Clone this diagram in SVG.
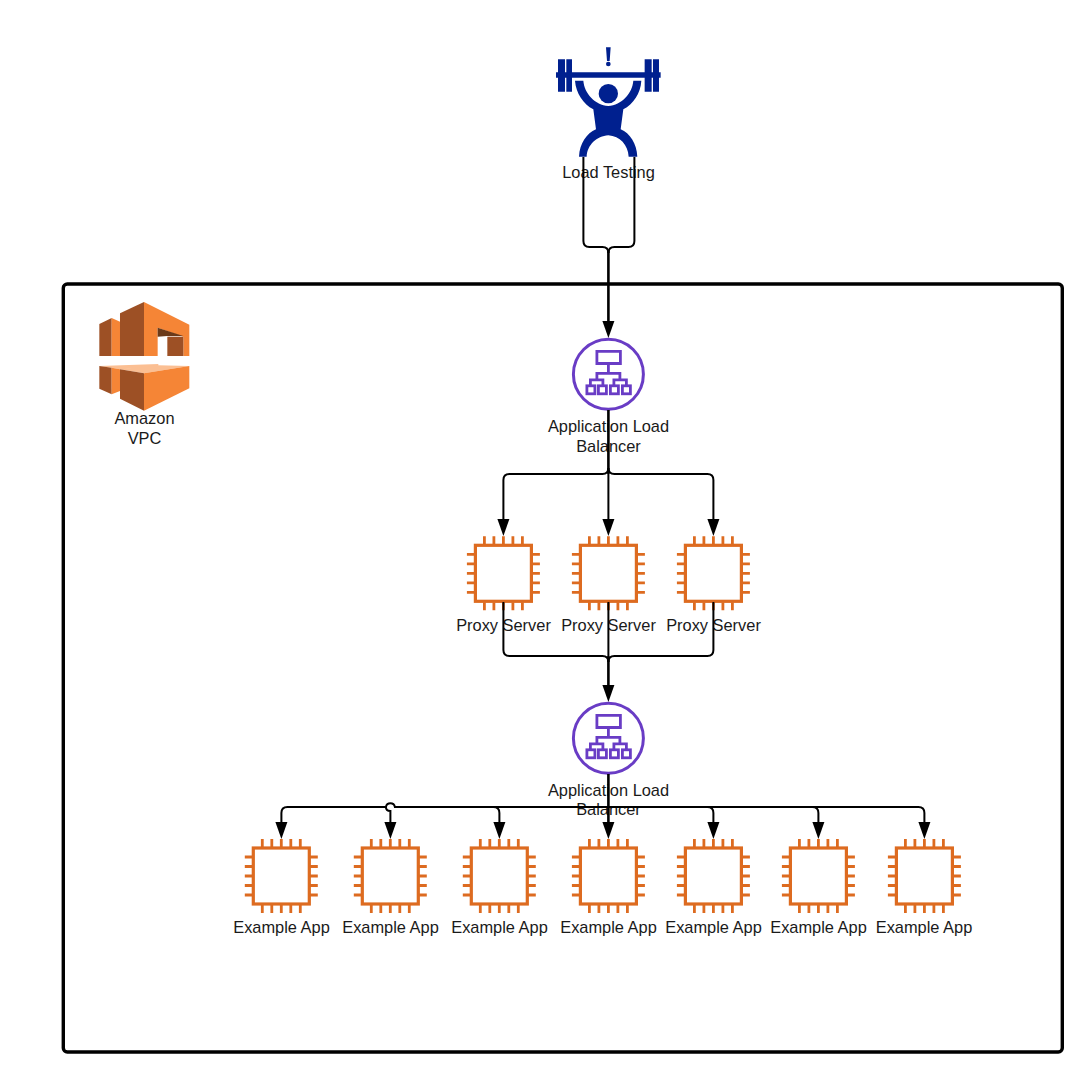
<svg xmlns="http://www.w3.org/2000/svg" xmlns:xlink="http://www.w3.org/1999/xlink" width="1092" height="1088" viewBox="0 0 1092 1088">
<style>
text{font-family:"Liberation Sans",Arial,sans-serif;font-size:16.4px;fill:#1a1a1a;text-anchor:middle}
.wire{fill:none;stroke:#000;stroke-width:2}
.trunk{fill:none;stroke:#000;stroke-width:2.600}
.chipbox{fill:#fff;stroke:#dd6b20;stroke-width:3.200}
.pin{fill:none;stroke:#dd6b20;stroke-width:2.800}
.alb{fill:none;stroke:#693cc5;stroke-width:3}
.albi{fill:none;stroke:#693cc5;stroke-width:2.800}
.lift{fill:#00208f}
.od{fill:#9d5025}.ol{fill:#f58536}.ot{fill:#fbbf93}.ok{fill:#6b3a19}
</style>
<defs>
<polygon id="tip" points="-6,-17 6,-17 0,0" fill="#000"/>
<g id="chip">
<path class="pin" d="M-19-37v8M-9.500-37v8M0-37v8M9.500-37v8M19-37v8M-19 29v8M-9.500 29v8M0 29v8M9.500 29v8M19 29v8M-36.500-19h8M-36.500-9.500h8M-36.500 0h8M-36.500 9.500h8M-36.500 19h8M28.500-19h8M28.500-9.500h8M28.500 0h8M28.500 9.500h8M28.500 19h8"/>
<rect class="chipbox" x="-28" y="-28" width="56" height="56"/>
</g>
<g id="albicon">
<circle class="alb" cx="0" cy="0" r="35"/>
<path class="albi" d="M-11.500-23H12V-10.800H-11.500ZM0-10.800V-1M-11.500 7V-1H11.500V7M-18 11V5.500H-5.500V11M5.500 11V5.500H18V11"/>
<rect class="albi" x="-21.500" y="11.500" width="8" height="8"/>
<rect class="albi" x="-10" y="11.500" width="8" height="8"/>
<rect class="albi" x="2" y="11.500" width="8" height="8"/>
<rect class="albi" x="14" y="11.500" width="8" height="8"/>
</g>
</defs>
<rect width="1092" height="1088" fill="#fff"/>
<g id="vpc-boundary"><rect x="63.300" y="284" width="999" height="768" rx="4" fill="none" stroke="#000" stroke-width="3.400"/></g>
<g id="load-testing">
<g transform="translate(540,30) scale(.3333)">
<path class="lift" d="M198 52H212L209 93H201ZM48 127H54V88H75V127H79V88H96V127H314V88H335V127H339V88H357V127H362V143H357V185H339V143H335V185H314V143H96V185H79V143H75V185H54V143H48Z"/>
<circle class="lift" cx="205" cy="102" r="7"/>
<circle class="lift" cx="205" cy="191" r="29"/>
<path class="lift" d="M105 152H130C133 190 165 225 205 228C245 225 277 190 280 152H304C302 190 280 222 250 238L242 298C270 310 290 340 292 380H266C264 345 240 318 205 316C170 318 142 345 140 380H117C119 340 140 310 168 298L160 238C130 222 108 190 105 152Z"/>
</g>
<text x="608.500" y="178">Load Testing</text>
</g>
<g id="amazon-vpc">
<g transform="translate(80,290) scale(.3333)">
<path class="od" d="M58 102L95 84V198H58Z"/><path class="ol" d="M95 84L120 95V198H95Z"/>
<path class="od" d="M120 70L192 36V198H120Z"/>
<path class="ol" d="M192 36L328 104V198H310V140L233 113V198H192Z"/>
<path class="ok" d="M233 113L310 138H262L233 140Z"/>
<path class="od" d="M262 140H310V198H262Z"/>
<path class="ot" d="M58 228L235 222V232L120 238L95 233Z"/>
<path class="od" d="M58 228L95 233V313L58 296Z"/><path class="ol" d="M95 233L120 238V303L95 313Z"/>
<path class="ot" d="M120 238L235 226L328 228L192 250Z"/>
<path class="od" d="M120 238L192 250V362L120 326Z"/>
<path class="ol" d="M192 250L328 228V295L192 362Z"/>
</g>
<text x="144.500" y="424">Amazon</text><text x="144.500" y="444">VPC</text>
</g>
<g id="alb-1"><use xlink:href="#albicon" href="#albicon" x="608.400" y="374.300"/><text x="608.500" y="432">Application Load</text><text x="608.500" y="452">Balancer</text></g>
<g id="proxy-1"><use xlink:href="#chip" href="#chip" x="503.400" y="573.300"/><text x="503.500" y="631">Proxy Server</text></g>
<g id="proxy-2"><use xlink:href="#chip" href="#chip" x="608.400" y="573.300"/><text x="608.500" y="631">Proxy Server</text></g>
<g id="proxy-3"><use xlink:href="#chip" href="#chip" x="713.400" y="573.300"/><text x="713.500" y="631">Proxy Server</text></g>
<g id="alb-2"><use xlink:href="#albicon" href="#albicon" x="608.400" y="738.300"/><text x="608.500" y="796">Application Load</text><text x="608.500" y="815">Balancer</text></g>
<g id="app-1"><use xlink:href="#chip" href="#chip" x="281.300" y="876"/><text x="281.500" y="933">Example App</text></g>
<g id="app-2"><use xlink:href="#chip" href="#chip" x="390.300" y="876"/><text x="390.500" y="933">Example App</text></g>
<g id="app-3"><use xlink:href="#chip" href="#chip" x="499.300" y="876"/><text x="499.500" y="933">Example App</text></g>
<g id="app-4"><use xlink:href="#chip" href="#chip" x="608.400" y="876"/><text x="608.500" y="933">Example App</text></g>
<g id="app-5"><use xlink:href="#chip" href="#chip" x="713.400" y="876"/><text x="713.500" y="933">Example App</text></g>
<g id="app-6"><use xlink:href="#chip" href="#chip" x="818.400" y="876"/><text x="818.500" y="933">Example App</text></g>
<g id="app-7"><use xlink:href="#chip" href="#chip" x="924.400" y="876"/><text x="924" y="933">Example App</text></g>
<g id="connectors" transform="translate(.4,0)">
<path class="wire" d="M583 157V241Q583 247 589 247H602Q608 247 608 253"/>
<path class="wire" d="M634 157V241Q634 247 628 247H614Q608 247 608 253"/>
<path class="trunk" d="M608 250V325"/>
<path class="trunk" d="M608 410V474"/>
<path class="wire" d="M608 474V522"/>
<path class="wire" d="M608 468Q608 474 602 474H509Q503 474 503 480V522"/>
<path class="wire" d="M608 468Q608 474 614 474H707Q713 474 713 480V522"/>
<path class="wire" d="M503 602V650Q503 656 509 656H602Q608 656 608 662"/>
<path class="wire" d="M713 602V650Q713 656 707 656H614Q608 656 608 662"/>
<path class="wire" d="M608 602V656"/>
<path class="trunk" d="M608 656V688"/>
<path class="trunk" d="M608 774V825"/>
<path class="wire" d="M385.500 807H287Q281 807 281 813V825"/>
<path class="wire" d="M385.500 807A4.600 4.600 0 0 1 394.500 807H918Q924 807 924 813V825"/>
<path class="wire" d="M385.500 807Q385.500 811 390 811V825"/>
<path class="wire" d="M493 807Q499 807 499 813V825"/>
<path class="wire" d="M707 807Q713 807 713 813V825"/>
<path class="wire" d="M812 807Q818 807 818 813V825"/>
<use xlink:href="#tip" href="#tip" x="608" y="338"/>
<use xlink:href="#tip" href="#tip" x="503" y="536"/>
<use xlink:href="#tip" href="#tip" x="608" y="536"/>
<use xlink:href="#tip" href="#tip" x="713" y="536"/>
<use xlink:href="#tip" href="#tip" x="608" y="702"/>
<use xlink:href="#tip" href="#tip" x="281" y="839"/>
<use xlink:href="#tip" href="#tip" x="390" y="839"/>
<use xlink:href="#tip" href="#tip" x="499" y="839"/>
<use xlink:href="#tip" href="#tip" x="608" y="839"/>
<use xlink:href="#tip" href="#tip" x="713" y="839"/>
<use xlink:href="#tip" href="#tip" x="818" y="839"/>
<use xlink:href="#tip" href="#tip" x="924" y="839"/>
</g>
</svg>
